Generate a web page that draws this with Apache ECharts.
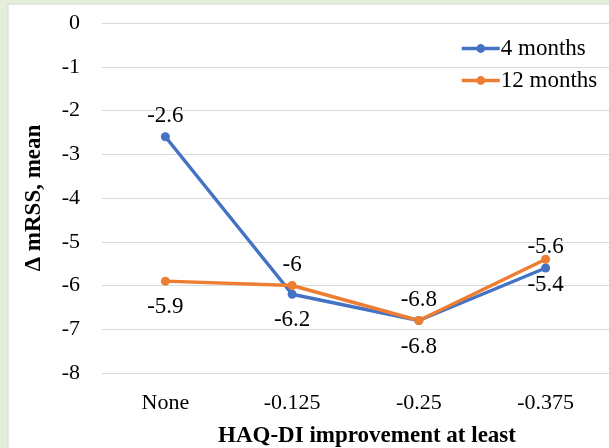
<!DOCTYPE html>
<html><head><meta charset="utf-8">
<script src="https://cdn.jsdelivr.net/npm/echarts@6/dist/echarts.min.js"></script>
<style>html,body{margin:0;padding:0;background:#e5eed9;}#c{width:609px;height:448px;}</style>
</head><body><div id="c"></div>
<script>
const categories = ['None', '-0.125', '-0.25', '-0.375'];
const months4 = [-2.6, -6.2, -6.8, -5.6];
const months12 = [-5.9, -6, -6.8, -5.4];
const labelPos4 = ['top', 'bottom', 'bottom', 'top'];
const labelPos12 = ['bottom', 'top', 'top', 'bottom'];
const seriesNames = ['4 months', '12 months'];

const FONT = '"Liberation Serif", "Times New Roman", serif';
function mk(vals, pos) {
  return vals.map((v, i) => ({
    value: v,
    label: { position: pos[i], distance: pos[i] === 'top' ? 5 : 10 }
  }));
}
const chart = echarts.init(document.getElementById('c'), null, {renderer: 'canvas'});
chart.setOption({
  backgroundColor: '#e5eed9',
  animation: false,
  textStyle: { fontFamily: FONT },
  graphic: [
    { type: 'rect', z: -10, shape: { x: 8, y: 4, width: 610, height: 460 },
      style: { fill: '#ffffff', stroke: '#d6d6d6', lineWidth: 1 } },
    { type: 'text', z: 10,
      style: { text: 'HAQ-DI improvement at least', font: 'bold 23px ' + FONT, fill: '#000',
               x: 367, y: 436, textAlign: 'center', textVerticalAlign: 'middle' } }
  ],
  legend: {
    orient: 'vertical', left: 455, top: 32, itemGap: 9,
    itemWidth: 38, itemHeight: 11,
    lineStyle: { width: 3.5 },
    textStyle: { fontFamily: FONT, fontSize: 23, color: '#000', padding: [0,0,0,-4] },
    data: seriesNames
  },
  grid: { left: 102, right: 0, top: 23, bottom: 75 },
  xAxis: {
    type: 'category', data: categories, boundaryGap: true,
    axisLine: { show: true, lineStyle: { color: '#d9d9d9' } },
    axisTick: { show: false },
    axisLabel: { fontFamily: FONT, fontSize: 22, color: '#000', margin: 19 }
  },
  yAxis: {
    type: 'value', min: -8, max: 0, interval: 1,
    name: 'Δ mRSS, mean', nameLocation: 'middle', nameGap: 56, nameRotate: 90,
    nameTextStyle: { fontFamily: FONT, fontSize: 23, fontWeight: 'bold', color: '#000' },
    axisLine: { show: false }, axisTick: { show: false },
    splitLine: { lineStyle: { color: '#d9d9d9', width: 1 } },
    axisLabel: { fontFamily: FONT, fontSize: 22, color: '#000', margin: 22 }
  },
  series: [
    { name: seriesNames[0], type: 'line', data: mk(months4, labelPos4),
      color: '#4472C4', symbol: 'circle', symbolSize: 9,
      lineStyle: { width: 3.5 },
      label: { show: true, fontFamily: FONT, fontSize: 23, color: '#000' } },
    { name: seriesNames[1], type: 'line', data: mk(months12, labelPos12),
      color: '#ED7D31', symbol: 'circle', symbolSize: 9,
      lineStyle: { width: 3.5 },
      label: { show: true, fontFamily: FONT, fontSize: 23, color: '#000' } }
  ]
});
</script></body></html>
